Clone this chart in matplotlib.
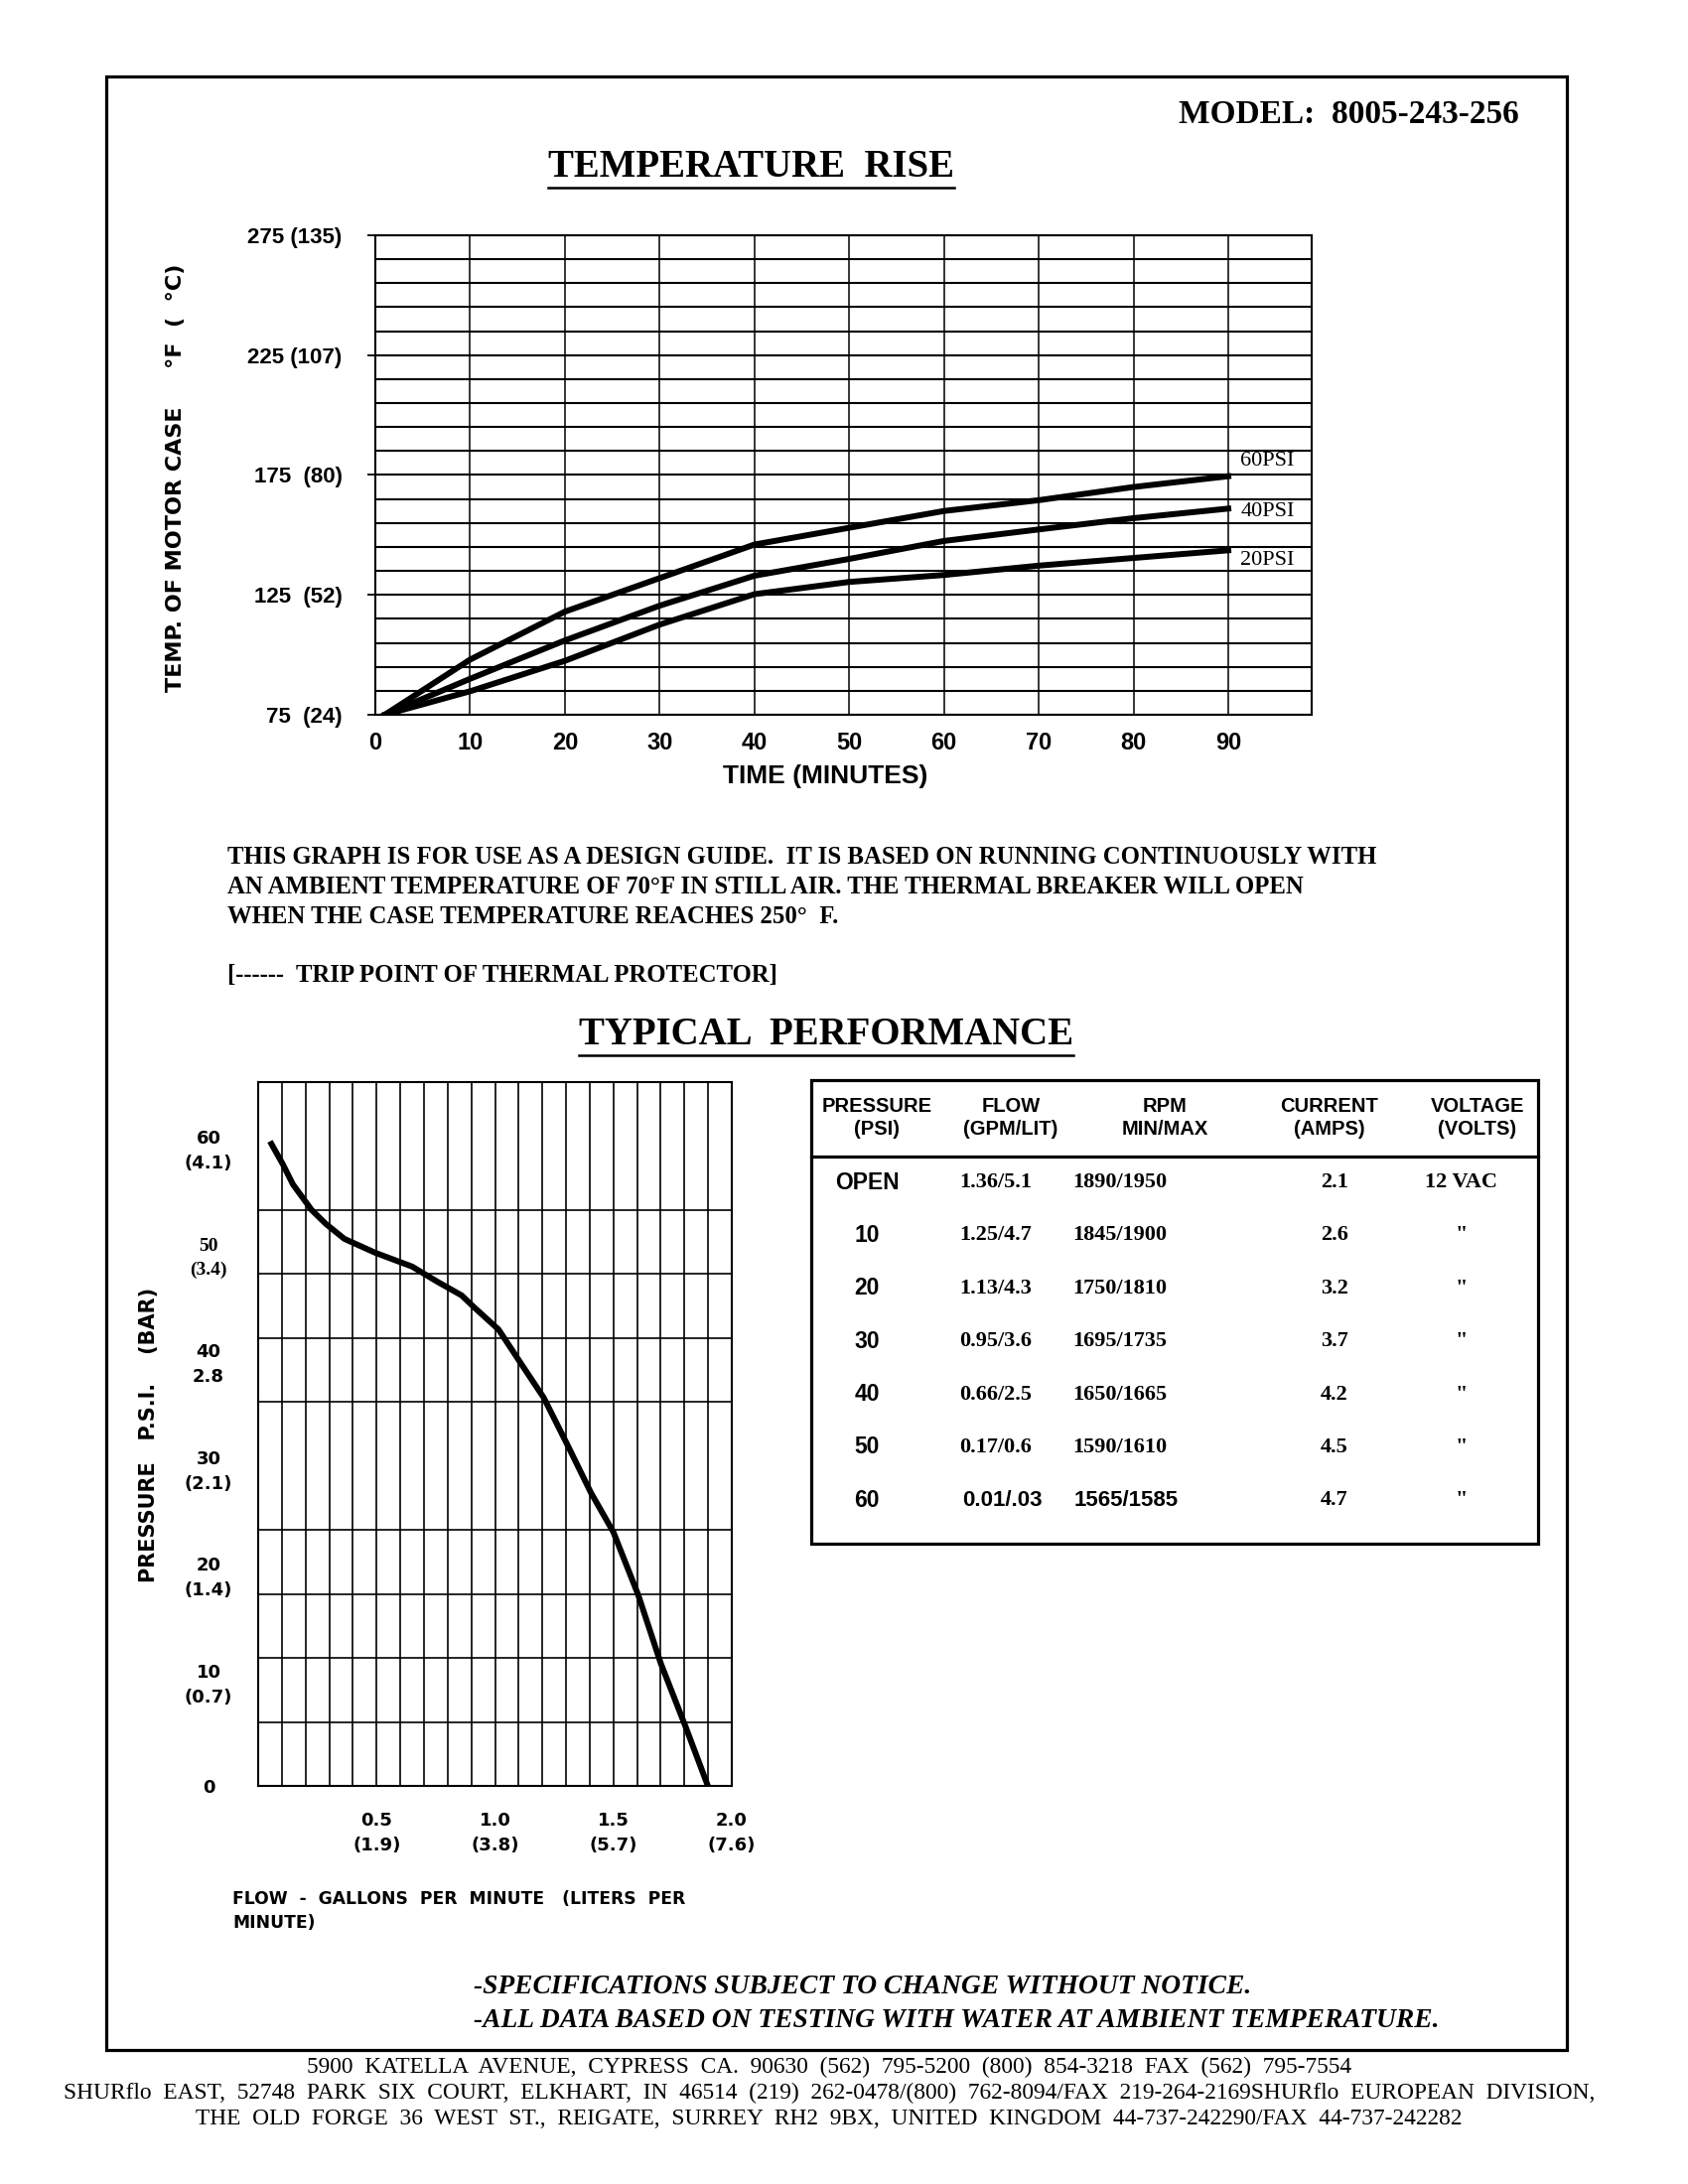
import matplotlib
matplotlib.use('Agg')
import matplotlib.pyplot as plt
from matplotlib.lines import Line2D
from matplotlib.patches import Rectangle

# ---- temperature rise data (deg F vs minutes) ----
minutes = [1, 10, 20, 30, 40, 50, 60, 70, 80, 90]
temp_60psi = [75, 98, 118, 132, 146, 153, 160, 164.5, 170, 174.5]
temp_40psi = [75, 90, 106, 120.5, 133, 140, 147.5, 152.3, 157, 161]
temp_20psi = [75, 84.8, 97.5, 112.6, 125.3, 130.4, 133.3, 137.2, 140.4, 143.6]
curve_names = ['60PSI', '40PSI', '20PSI']
name_y = [181, 159.5, 139.5]

temp_ticks = [75, 125, 175, 225, 275]
temp_tick_labels = ['75  (24)', '125  (52)', '175  (80)', '225 (107)', '275 (135)']
time_ticks = [0, 10, 20, 30, 40, 50, 60, 70, 80, 90]

# ---- pump performance curve ----
flow_gpm = [0.056, 0.104, 0.147, 0.226, 0.286, 0.364, 0.494, 0.650, 0.755, 0.859,
            0.911, 1.015, 1.119, 1.206, 1.310, 1.405, 1.500, 1.605, 1.700, 1.804, 1.899]
pressure_psi = [60.2, 58.3, 56.4, 54.0, 52.7, 51.3, 50.0, 48.7, 47.3, 46.0,
                44.9, 42.8, 39.3, 36.4, 31.8, 27.5, 23.8, 17.9, 11.5, 5.6, 0]
psi_ticks = [0, 10, 20, 30, 40, 50, 60]
psi_tick_labels = ['0', '10\n(0.7)', '20\n(1.4)', '30\n(2.1)', '40\n2.8', '50\n(3.4)', '60\n(4.1)']
flow_ticks = [0.5, 1.0, 1.5, 2.0]
flow_tick_labels = ['0.5\n(1.9)', '1.0\n(3.8)', '1.5\n(5.7)', '2.0\n(7.6)']

# ---- performance table ----
table_header = ['PRESSURE\n(PSI)', 'FLOW\n(GPM/LIT)', 'RPM\nMIN/MAX', 'CURRENT\n(AMPS)', 'VOLTAGE\n(VOLTS)']
table_pressure = ['OPEN', '10', '20', '30', '40', '50', '60']
table_flow = ['1.36/5.1', '1.25/4.7', '1.13/4.3', '0.95/3.6', '0.66/2.5', '0.17/0.6', '0.01/.03']
table_rpm = ['1890/1950', '1845/1900', '1750/1810', '1695/1735', '1650/1665', '1590/1610', '1565/1585']
table_current = ['2.1', '2.6', '3.2', '3.7', '4.2', '4.5', '4.7']
table_voltage = ['12 VAC', '"', '"', '"', '"', '"', '"']

SANS_N = ['Liberation Sans', 'DejaVu Sans']
SANS_W = ['DejaVu Sans']
SERIF = ['Liberation Serif', 'DejaVu Serif']

fig = plt.figure(figsize=(17, 22), dpi=100)
fig.patch.set_facecolor('white')

# page layer in pixel coordinates
page = fig.add_axes([0, 0, 1, 1])
page.set_xlim(0, 1700)
page.set_ylim(2200, 0)
page.axis('off')

page.add_patch(Rectangle((107, 77), 1471, 1988, fill=False, lw=2.3, ec='black'))

page.text(1358, 116, 'MODEL:  8005-243-256', family=SERIF, weight='bold', fontsize=24,
          ha='center', va='center')
t1 = page.text(757, 168, 'TEMPERATURE  RISE', family=SERIF, weight='bold', fontsize=28,
               ha='center', va='center')
t2 = page.text(832, 1042, 'TYPICAL  PERFORMANCE', family=SERIF, weight='bold', fontsize=28,
               ha='center', va='center')

para = ['THIS GRAPH IS FOR USE AS A DESIGN GUIDE.  IT IS BASED ON RUNNING CONTINUOUSLY WITH',
        'AN AMBIENT TEMPERATURE OF 70°F IN STILL AIR. THE THERMAL BREAKER WILL OPEN',
        'WHEN THE CASE TEMPERATURE REACHES 250°  F.']
for i, line in enumerate(para):
    page.text(229, 863 + i * 30, line, family=SERIF, weight='bold', fontsize=17.8, va='center')
page.text(229, 982, '[------  TRIP POINT OF THERMAL PROTECTOR]', family=SERIF, weight='bold',
          fontsize=17.8, va='center')

page.text(477, 2002, '-SPECIFICATIONS SUBJECT TO CHANGE WITHOUT NOTICE.', family=SERIF,
          weight='bold', style='italic', fontsize=19.8, va='center')
page.text(477, 2035, '-ALL DATA BASED ON TESTING WITH WATER AT AMBIENT TEMPERATURE.', family=SERIF,
          weight='bold', style='italic', fontsize=19.8, va='center')

footer = ['5900  KATELLA  AVENUE,  CYPRESS  CA.  90630  (562)  795-5200  (800)  854-3218  FAX  (562)  795-7554',
          'SHURflo  EAST,  52748  PARK  SIX  COURT,  ELKHART,  IN  46514  (219)  262-0478/(800)  762-8094/FAX  219-264-2169SHURflo  EUROPEAN  DIVISION,',
          'THE  OLD  FORGE  36  WEST  ST.,  REIGATE,  SURREY  RH2  9BX,  UNITED  KINGDOM  44-737-242290/FAX  44-737-242282']
for i, line in enumerate(footer):
    page.text(835, 2082 + i * 26.5, line, family=SERIF, fontsize=16.8, ha='center', va='center')

# table
page.add_patch(Rectangle((817, 1088), 732, 467, fill=False, lw=2.3, ec='black'))
page.add_line(Line2D([817, 1549], [1165, 1165], lw=2.3, color='black'))
col_x = [883, 1018, 1173, 1339, 1488]
for x, h in zip(col_x, table_header):
    page.text(x, 1126, h, family=SANS_N, weight='bold', fontsize=14.5, ha='center', va='center',
              linespacing=1.3)
val_x = [873, 1003, 1128, 1344, 1472]
for i in range(len(table_pressure)):
    y = 1191 + i * 53.4
    sans_row = table_pressure[i] == '60'
    page.text(val_x[0], y, table_pressure[i], family=SANS_N, weight='bold', fontsize=16.5,
              ha='center', va='center')
    for x, col in zip(val_x[1:3], [table_flow, table_rpm]):
        if sans_row:
            page.text(x + 6, y, col[i], family=SANS_N, weight='bold', fontsize=16, ha='center', va='center')
        else:
            page.text(x, y, col[i], family=SERIF, weight='bold', fontsize=16, ha='center', va='center')
    page.text(val_x[3], y, table_current[i], family=SERIF, weight='bold', fontsize=16,
              ha='center', va='center')
    page.text(val_x[4], y, table_voltage[i], family=SERIF, weight='bold', fontsize=16,
              ha='center', va='center')

# ---- temperature rise chart ----
ax = fig.add_axes([378 / 1700, 1 - 720 / 2200, 943 / 1700, 483 / 2200])
for temps in [temp_60psi, temp_40psi, temp_20psi]:
    ax.plot(minutes, temps, color='black', lw=4.3, solid_joinstyle='round', zorder=3)
for name, ny in zip(curve_names, name_y):
    ax.text(91.3, ny, name, family=SERIF, fontsize=16, va='center', ha='left', zorder=4)
ax.set_xlim(0, 98.8)
ax.set_ylim(75, 275)
ax.set_xticks(time_ticks)
ax.set_xticklabels([str(t) for t in time_ticks], family=SANS_N, weight='bold', fontsize=17)
ax.set_yticks(temp_ticks)
ax.set_yticklabels(temp_tick_labels, family=SANS_N, weight='bold', fontsize=16)
ax.set_yticks(range(75, 276, 10), minor=True)
ax.tick_params(axis='x', length=0, pad=12)
ax.tick_params(axis='y', which='major', length=6, width=1.3, pad=18)
ax.tick_params(axis='y', which='minor', length=0)
ax.yaxis.grid(True, which='both', color='black', lw=1.5)
ax.xaxis.grid(True, which='major', color='black', lw=1.1)
ax.set_axisbelow(True)
for s in ax.spines.values():
    s.set_linewidth(1.5)
ax.set_xlabel('TIME (MINUTES)', family=SANS_N, weight='bold', fontsize=19, va='center')
ax.xaxis.set_label_coords(0.481, -0.128)
ax.set_ylabel('TEMP. OF MOTOR CASE     °F  (  °C)', family=SANS_W, weight='bold', fontsize=16,
              va='center', ha='center')
ax.yaxis.set_label_coords(-0.213, 0.495)

# ---- pump curve chart ----
bx = fig.add_axes([260 / 1700, 1 - 1799 / 2200, 477 / 1700, 709 / 2200])
bx.plot(flow_gpm, pressure_psi, color='black', lw=4.3, solid_joinstyle='round', zorder=3)
bx.set_xlim(0, 2.0)
bx.set_ylim(0, 66)
bx.set_xticks(flow_ticks)
bx.set_xticklabels(flow_tick_labels, family=SANS_W, weight='bold', fontsize=13, linespacing=1.55)
bx.set_xticks([i / 10 for i in range(21)], minor=True)
bx.set_yticks(psi_ticks)
bx.set_yticklabels(psi_tick_labels, family=SANS_W, weight='bold', fontsize=13, ha='center',
                   linespacing=1.5)
for lab in bx.get_yticklabels():
    if lab.get_text().startswith('50'):
        lab.set_family(SERIF)
        lab.set_fontsize(14)
bx.set_yticks(range(0, 67, 6), minor=True)
bx.tick_params(axis='both', which='both', length=0)
bx.tick_params(axis='x', pad=18.5)
bx.tick_params(axis='y', pad=36)
bx.xaxis.grid(True, which='both', color='black', lw=1.2)
bx.yaxis.grid(True, which='minor', color='black', lw=1.2)
bx.yaxis.grid(False, which='major')
bx.set_axisbelow(True)
for s in bx.spines.values():
    s.set_linewidth(1.5)
bx.set_ylabel('PRESSURE   P.S.I.    (BAR)', family=SANS_W, weight='bold', fontsize=15,
              va='center', ha='center')
bx.yaxis.set_label_coords(-0.2306, 0.499)
bx.set_xlabel('FLOW  -  GALLONS  PER  MINUTE   (LITERS  PER\nMINUTE)', family=SANS_W,
              weight='bold', fontsize=12.3, ha='left', va='center', linespacing=1.45)
bx.xaxis.set_label_coords(-0.0545, -0.178)

# underlines for the section titles
fig.canvas.draw()
for t in [t1, t2]:
    bb = t.get_window_extent()
    yl = 2200 - bb.y0 + 2
    page.add_line(Line2D([bb.x0, bb.x1], [yl, yl], lw=1.8, color='black'))

fig.savefig('out.png', dpi=100)
